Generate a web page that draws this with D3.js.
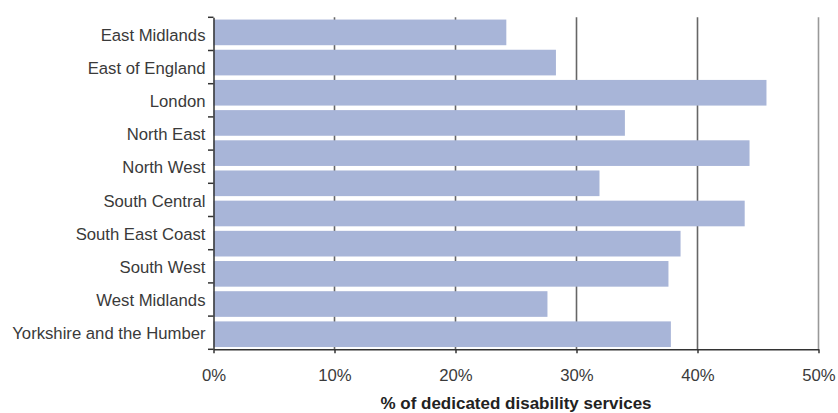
<!DOCTYPE html>
<html><head><meta charset="utf-8">
<script src="https://cdn.jsdelivr.net/npm/d3@7"></script>
<style>body{margin:0;background:#fff}svg{display:block}</style>
</head><body>
<svg id="c" width="838" height="413"></svg>
<script>
const categories = ["East Midlands","East of England","London","North East","North West","South Central","South East Coast","South West","West Midlands","Yorkshire and the Humber"];
const barIds = ["b1","b2","b3","b4","b5","b6","b7","b8","b9","b10","b11"];
const values = [24.2, 28.3, 45.7, 34.0, 44.3, 31.9, 43.9, 38.6, 37.6, 27.6, 37.8];
const xTicks = [0, 10, 20, 30, 40, 50];
const xTitle = "% of dedicated disability services";

(function () {
const svg = d3.select("#c");
const pl = 213.5, pr = 818.5, pt = 17.3, pb = 349.3;
const font = "'Liberation Sans', Arial, Helvetica, sans-serif";

const x = d3.scaleLinear().domain([0, 50]).range([pl, pr]);
const yLab = d3.scaleBand().domain(categories).range([pt, pb]);
const yBar = d3.scaleBand().domain(barIds).range([pt, pb]).paddingInner(0.15).paddingOuter(0.075);

// gridlines
svg.append("g").selectAll("line").data(xTicks.filter(d => d > 0)).join("line")
  .attr("x1", d => x(d)).attr("x2", d => x(d))
  .attr("y1", pt).attr("y2", pb)
  .attr("stroke", d => d === 50 ? "#999" : "#666")
  .attr("stroke-width", 1.6);

// bars
svg.append("g").selectAll("rect").data(values).join("rect")
  .attr("x", x(0)).attr("y", (d, i) => yBar(barIds[i]))
  .attr("width", d => x(d) - x(0)).attr("height", yBar.bandwidth())
  .attr("fill", "#a8b5d8");

// y axis
const yAxis = svg.append("g").attr("transform", `translate(${pl},0)`)
  .call(d3.axisLeft(yLab).tickSizeInner(0).tickSizeOuter(0).tickPadding(8));
yAxis.select(".domain").attr("stroke", "#333").attr("stroke-width", 1.5);
yAxis.selectAll("text").attr("font-family", font).attr("font-size", 16.7).attr("fill", "#3a3a3a").attr("dy", "0.4em");
const bounds = categories.map(c => yLab(c)).concat([pb]);
svg.append("g").selectAll("line").data(bounds).join("line")
  .attr("x1", pl - 5.5).attr("x2", pl)
  .attr("y1", d => d).attr("y2", d => d)
  .attr("stroke", "#333").attr("stroke-width", 1.5);

// x axis
const xAxis = svg.append("g").attr("transform", `translate(0,${pb})`)
  .call(d3.axisBottom(x).tickValues(xTicks).tickFormat(d => d + "%").tickSizeInner(4).tickSizeOuter(0).tickPadding(16));
xAxis.select(".domain").attr("stroke", "#333").attr("stroke-width", 1.5);
xAxis.selectAll(".tick line").attr("stroke", "#333").attr("stroke-width", 1.5);
xAxis.selectAll("text").attr("font-family", font).attr("font-size", 16.7).attr("fill", "#3a3a3a");

svg.append("text").attr("x", (pl + pr) / 2).attr("y", 408.5)
  .attr("text-anchor", "middle").attr("font-family", font).attr("font-size", 17)
  .attr("font-weight", "bold").attr("fill", "#222").text(xTitle);
})();
</script>
</body></html>
